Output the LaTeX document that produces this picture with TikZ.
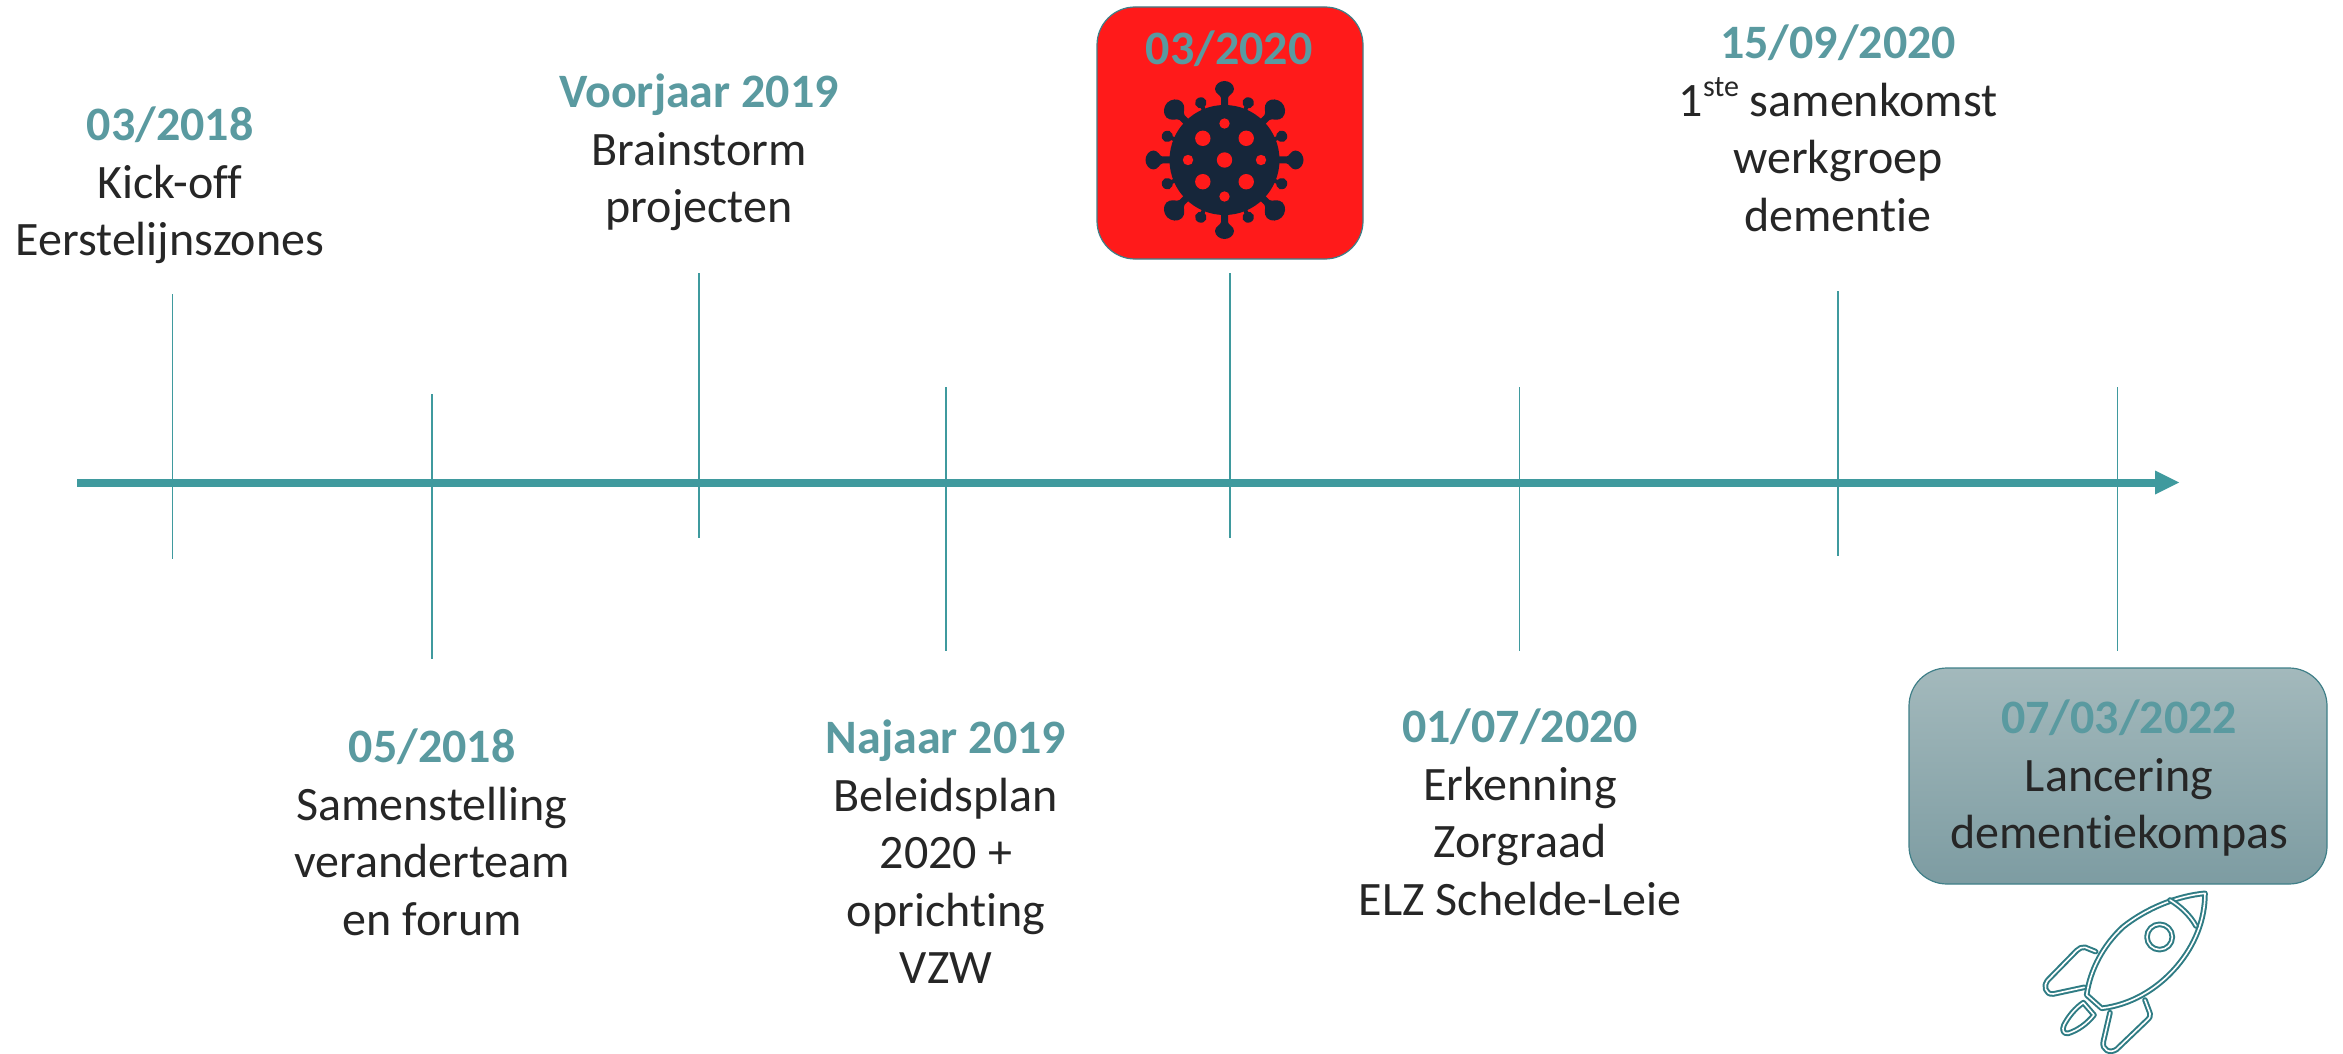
\documentclass[tikz,border=0pt]{standalone}
\usepackage{fontspec}
\setmainfont[Ligatures={NoCommon,TeX}]{Carlito}
\definecolor{axisc}{HTML}{3F9A9E}
\definecolor{datec}{HTML}{5A9AA0}
\definecolor{textc}{HTML}{262626}
\definecolor{virusc}{HTML}{16263A}
\definecolor{redc}{HTML}{FF1A1A}
\definecolor{edgec}{HTML}{3F7F88}
\definecolor{rocketc}{HTML}{2F7C84}
\definecolor{tealtop}{HTML}{A3B9BC}
\definecolor{tealbot}{HTML}{7D9CA2}
\newcommand{\dt}[1]{{\bfseries\color{datec}#1}}
\tikzset{
  tick/.style={draw=axisc,line width=1.6pt},
  axisline/.style={draw=axisc,line width=8pt},
  arrowheadfill/.style={fill=axisc,draw=none},
  label/.style={anchor=north,inner sep=0pt,align=center,text=textc,font=\fontsize{48}{57.5}\selectfont},
  redbox/.style={draw=edgec,line width=1.2pt,fill=redc,rounded corners=38pt,minimum width=266pt,minimum height=252pt,inner sep=0pt},
  tealbox/.style={draw=edgec,line width=1.2pt,top color=tealtop,bottom color=tealbot,rounded corners=38pt,minimum width=418pt,minimum height=216pt,inner sep=0pt},
  rocketline/.style={draw=rocketc,line width=2pt,double=white,double distance=1.6pt,line join=round,line cap=round},
}
\begin{document}
\begin{tikzpicture}[x=1pt,y=-1pt]
\useasboundingbox (0,0) rectangle (2343,1054);
% boxes
\node[redbox] (covidbox) at (1230,133) {};
\node[tealbox] (launchbox) at (2118,776) {};
% axis
\coordinate (axs) at (77,482.5);
\coordinate (axe) at (2160,482.5);
\draw[axisline] (axs) -- (axe);
\coordinate (tip) at (2179,482.5);
\fill[arrowheadfill] (2155,470.5) -- (tip) -- (2155,494.5) -- cycle;
% ticks
\coordinate (t1a) at (172.5,294); \coordinate (t1b) at (172.5,559); \draw[tick] (t1a) -- (t1b);
\coordinate (t2a) at (432,394);   \coordinate (t2b) at (432,659);   \draw[tick] (t2a) -- (t2b);
\coordinate (t3a) at (699,273);   \coordinate (t3b) at (699,538);   \draw[tick] (t3a) -- (t3b);
\coordinate (t4a) at (946,387);   \coordinate (t4b) at (946,651);   \draw[tick] (t4a) -- (t4b);
\coordinate (t5a) at (1230,273);  \coordinate (t5b) at (1230,538);  \draw[tick] (t5a) -- (t5b);
\coordinate (t6a) at (1519.5,387);\coordinate (t6b) at (1519.5,651);\draw[tick] (t6a) -- (t6b);
\coordinate (t7a) at (1838,291);  \coordinate (t7b) at (1838,556);  \draw[tick] (t7a) -- (t7b);
\coordinate (t8a) at (2117.5,387);\coordinate (t8b) at (2117.5,651);\draw[tick] (t8a) -- (t8b);
% labels
\node[label] (la) at (170,107) {\dt{03/2018}\\Kick-off\\Eerstelijnszones};
\node[label] (lb) at (432,729) {\dt{05/2018}\\Samenstelling\\veranderteam\\en forum};
\node[label] (lc) at (699,74) {\dt{Voorjaar 2019}\\Brainstorm\\projecten};
\node[label] (ld) at (946,720) {\dt{Najaar 2019}\\Beleidsplan\\2020 +\\oprichting\\VZW};
\node[label] (le) at (1229,31) {\dt{03/2020}};
\node[label] (lf) at (1838,25) {\dt{15/09/2020}\\1\raisebox{0.42em}{\fontsize{30}{30}\selectfont ste} samenkomst\\werkgroep\\dementie};
\node[label] (lg) at (1520,709) {\dt{01/07/2020}\\Erkenning\\Zorgraad\\ELZ Schelde-Leie};
\node[label] (lh) at (2119,700) {\dt{07/03/2022}\\Lancering\\dementiekompas};
% virus
\begin{scope}[shift={(1224.5,160)}]
  \fill[virusc] (0,0) circle (55);
  \foreach \a in {0,90,180,270}{
    \begin{scope}[rotate=\a]
      \fill[virusc] (-3.5,-52) -- (-3.5,-62) .. controls (-3.5,-65) and (-9.5,-66) .. (-9.5,-71)
        .. controls (-9.5,-76) and (-4,-79) .. (0,-79)
        .. controls (4,-79) and (9.5,-76) .. (9.5,-71)
        .. controls (9.5,-66) and (3.5,-65) .. (3.5,-62) -- (3.5,-52) -- cycle;
    \end{scope}}
  \foreach \a in {45,135,225,315}{
    \begin{scope}[rotate=\a]
      \fill[virusc] (-3.5,-52) -- (-3.5,-60) .. controls (-3.5,-63) and (-11,-65) .. (-11,-71)
        .. controls (-11,-77) and (-5,-81) .. (0,-81)
        .. controls (5,-81) and (11,-77) .. (11,-71)
        .. controls (11,-65) and (3.5,-63) .. (3.5,-60) -- (3.5,-52) -- cycle;
    \end{scope}}
  \foreach \a in {22.5,67.5,112.5,157.5,202.5,247.5,292.5,337.5}{
    \begin{scope}[rotate=\a]
      \fill[virusc] (-2,-52) rectangle (2,-60);
      \fill[virusc] (0,-62) ellipse (5.8 and 5.4);
    \end{scope}}
  \fill[redc] (0,0) circle (7.7);
  \foreach \p in {(-21.7,-21.7),(21.7,-21.7),(-21.7,21.7),(21.7,21.7)} \fill[redc] \p circle (7.7);
  \foreach \p in {(0,-36.5),(0,36.5),(-36.5,0),(36.5,0)} \fill[redc] \p circle (5.2);
\end{scope}
% rocket (coordinates in 3x crop units)
\begin{scope}[shift={(1890,650)},x=0.3333pt,y=-0.3333pt]
  \draw[rocketline] (945,730) .. controls (860,738) and (770,775) .. (700,830)
     .. controls (640,885) and (600,960) .. (590,1035) -- (635,1075)
     .. controls (720,1065) and (800,1020) .. (860,950)
     .. controls (915,885) and (945,810) .. (945,730) -- cycle;
  \draw[rocketline] (840,750) .. controls (870,768) and (900,795) .. (918,828);
  \draw[rocketline] (809,861) circle[radius=38];
  \draw[rocketline] (617,905) -- (585,892) .. controls (575,890) and (568,895) .. (560,902) -- (472,992)
     .. controls (460,1005) and (465,1035) .. (490,1032) -- (583,1012);
  \draw[rocketline] (765,1050) -- (780,1090) .. controls (782,1098) and (780,1102) .. (772,1110) -- (680,1198)
     .. controls (660,1212) and (635,1200) .. (640,1175) -- (660,1088);
  \draw[rocketline] (580,1058) -- (612,1095) .. controls (590,1122) and (565,1140) .. (535,1150)
     .. controls (520,1153) and (515,1140) .. (522,1125) .. controls (535,1100) and (555,1075) .. (580,1058) -- cycle;
\end{scope}
\end{tikzpicture}
\end{document}
